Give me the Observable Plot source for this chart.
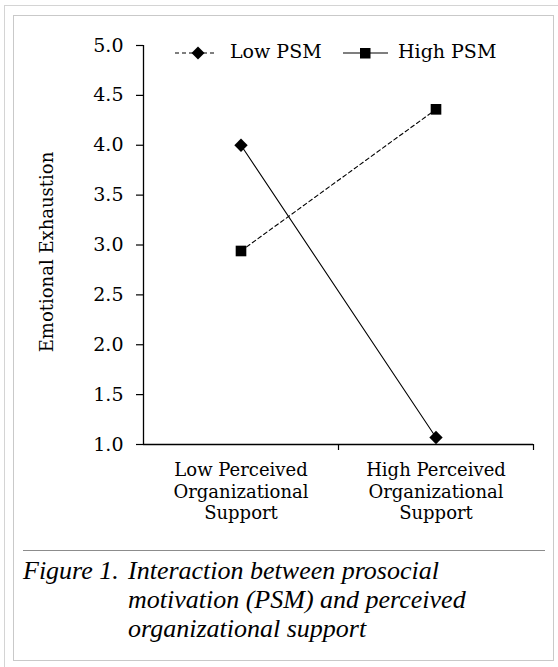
<!DOCTYPE html>
<html>
<head>
<meta charset="utf-8">
<script src="https://cdn.jsdelivr.net/npm/d3@7"></script>
<script src="https://cdn.jsdelivr.net/npm/@observablehq/plot@0.6"></script>
<style>
  html, body { margin: 0; padding: 0; background: #fff; }
  #wrap { position: relative; width: 558px; height: 667px; overflow: hidden; background: #fff; }
  #outer { position: absolute; left: 4px; top: 5px; width: 600px; height: 700px; border-left: 1px solid #d4d4d4; border-top: 1px solid #d4d4d4; }
  #inner { position: absolute; left: 13px; top: 15px; width: 539px; height: 644px; border: 1.5px solid #c9c9c9; }
  #chart { position: absolute; left: 0; top: 0; }
  .leg { position: absolute; font-family: "DejaVu Serif", serif; font-size: 19px; color: #000; white-space: nowrap; }
  #sep { position: absolute; left: 23px; top: 550px; width: 522px; border-top: 1.5px solid #8c8c8c; }
  #caption { position: absolute; left: 23px; top: 556px; font-family: "Liberation Serif", serif; font-style: italic; font-size: 26px; line-height: 29px; color: #000; display: flex; }
  #caption .fig { width: 105px; white-space: nowrap; }
</style>
</head>
<body>
<div id="wrap">
  <div id="outer"></div>
  <div id="inner"></div>
  <div id="chart"></div>
  <div id="legend"></div>
  <div id="sep"></div>
  <div id="caption"><span class="fig">Figure 1.</span><span class="body">Interaction between prosocial<br>motivation (PSM) and perceived<br>organizational support</span></div>
</div>
<script>
// ---- data ----
const categories = ["Low Perceived Organizational Support", "High Perceived Organizational Support"];
const categoryLabels = ["Low Perceived\nOrganizational\nSupport", "High Perceived\nOrganizational\nSupport"];
const lowPSM = [4.00, 1.07];   // diamond markers
const highPSM = [2.94, 4.36];  // square markers
const yTicks = [1.0, 1.5, 2.0, 2.5, 3.0, 3.5, 4.0, 4.5, 5.0];
const yLabel = "Emotional Exhaustion";
const seriesNames = ["Low PSM", "High PSM"];

const n = categories.length;
const lowRows = categories.map((c, i) => ({pos: i + 0.5, value: lowPSM[i]}));
const highRows = categories.map((c, i) => ({pos: i + 0.5, value: highPSM[i]}));

const chart = Plot.plot({
  width: 558,
  height: 545,
  marginTop: 45,
  marginBottom: 101,
  marginLeft: 143,
  marginRight: 25,
  style: {fontFamily: "DejaVu Serif", fontSize: "19px", color: "#000", background: "transparent", overflow: "visible"},
  x: {type: "linear", domain: [0, n], axis: null},
  y: {domain: [yTicks[0], yTicks[yTicks.length - 1]], axis: null},
  marks: [
    Plot.axisY({ticks: yTicks, tickFormat: d3.format(".1f"), tickSize: 7, tickPadding: 13, label: null, stroke: "#000", strokeWidth: 1.2, fontSize: 19}),
    Plot.ruleX([0], {stroke: "#000", strokeWidth: 1.3}),
    Plot.ruleY([yTicks[0]], {stroke: "#000", strokeWidth: 1.3}),
    Plot.axisX({ticks: d3.range(1, n + 1), tickFormat: () => "", tickSize: 6, label: null, stroke: "#000", strokeWidth: 1.2}),
    Plot.axisX({ticks: categories.map((c, i) => i + 0.5), tickFormat: (d) => categoryLabels[Math.round(d - 0.5)], tickSize: 0, tickPadding: 17, lineHeight: 1.17, label: null, fontSize: 18}),
    Plot.text([yLabel], {frameAnchor: "left", textAnchor: "middle", rotate: -90, dx: -96, dy: 7, fontSize: 18}),
    Plot.line(highRows, {x: "pos", y: "value", stroke: "#000", strokeWidth: 1.1, strokeDasharray: "4,3"}),
    Plot.line(lowRows, {x: "pos", y: "value", stroke: "#000", strokeWidth: 1.1}),
    Plot.dot(lowRows, {x: "pos", y: "value", symbol: "diamond2", r: 6, fill: "#000", stroke: "none"}),
    Plot.dot(highRows, {x: "pos", y: "value", symbol: "square", r: 6, fill: "#000", stroke: "none"})
  ]
});
document.getElementById("chart").appendChild(chart);

// ---- legend ----
const leg = document.getElementById("legend");
leg.innerHTML = `
  <svg class="leg" style="left:175px;top:45px" width="42" height="16">
    <line x1="0" x2="42" y1="8" y2="8" stroke="#000" stroke-width="1.1" stroke-dasharray="4,3"/>
    <path d="M23,1.5 L29.5,8 L23,14.5 L16.5,8Z" fill="#000"/>
  </svg>
  <div class="leg" style="left:230px;top:40px">${seriesNames[0]}</div>
  <svg class="leg" style="left:343px;top:45px" width="45" height="16">
    <line x1="0" x2="45" y1="8" y2="8" stroke="#000" stroke-width="1.2"/>
    <rect x="17" y="3" width="10.5" height="10.5" fill="#000"/>
  </svg>
  <div class="leg" style="left:398px;top:40px">${seriesNames[1]}</div>
`;
</script>
</body>
</html>
